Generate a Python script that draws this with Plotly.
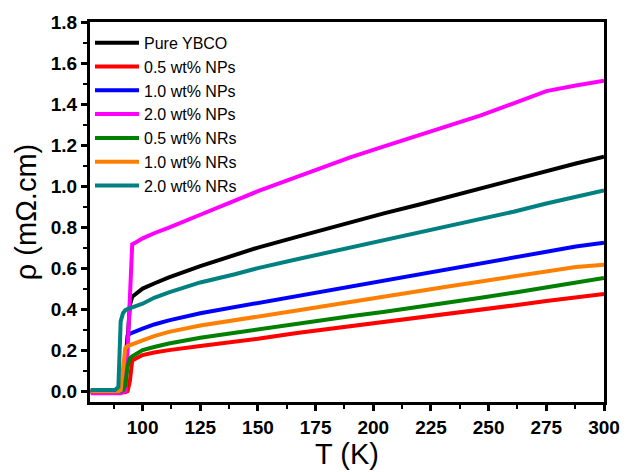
import plotly.graph_objects as go

T = [77.5, 80, 85, 88, 89.5, 90.5, 91.5, 92.5, 93.5, 94.5, 95.5, 97, 100, 105,
     111.4, 125, 140, 150, 166.9, 190, 205, 220, 232.4, 246.6, 260.8, 275, 287.8, 300]

pure_ybco = [0, 0, 0, 0, 0, 0, 0.005, 0.05, 0.25, 0.42, 0.46, 0.475, 0.50, 0.525,
             0.555, 0.61, 0.665, 0.70, 0.752, 0.825, 0.868, 0.91, 0.947, 0.99, 1.033, 1.075, 1.11, 1.143]
nps_05 = [-0.005, -0.005, -0.005, -0.005, -0.005, -0.005, -0.005, -0.005, 0.0, 0.05, 0.15, 0.16, 0.176, 0.188,
          0.20, 0.22, 0.24, 0.255, 0.283, 0.315, 0.337, 0.36, 0.378, 0.398, 0.418, 0.44, 0.457, 0.474]
nps_10 = [0, 0, 0, 0, 0, 0.01, 0.05, 0.15, 0.27, 0.28, 0.285, 0.29, 0.305, 0.325,
          0.345, 0.38, 0.41, 0.43, 0.466, 0.51, 0.54, 0.571, 0.595, 0.622, 0.65, 0.68, 0.705, 0.724]
nps_20 = [-0.01, -0.01, -0.01, -0.01, -0.01, -0.01, -0.005, 0.0, 0.2, 0.5, 0.716, 0.725, 0.745, 0.77,
          0.797, 0.86, 0.93, 0.975, 1.045, 1.14, 1.195, 1.25, 1.295, 1.345, 1.403, 1.463, 1.49, 1.514]
nrs_05 = [0, 0, 0, 0, 0, 0, 0.005, 0.03, 0.12, 0.16, 0.17, 0.18, 0.20, 0.215,
          0.232, 0.26, 0.285, 0.30, 0.33, 0.365, 0.387, 0.41, 0.43, 0.455, 0.48, 0.505, 0.527, 0.552]
nrs_10 = [0, 0, 0, 0, 0, 0.005, 0.1, 0.21, 0.22, 0.225, 0.23, 0.235, 0.248, 0.268,
          0.289, 0.32, 0.345, 0.362, 0.393, 0.435, 0.46, 0.487, 0.51, 0.535, 0.56, 0.585, 0.605, 0.616]
nrs_20 = [0.005, 0.005, 0.005, 0.005, 0.02, 0.34, 0.38, 0.395, 0.40, 0.405, 0.41, 0.415, 0.426, 0.455,
          0.482, 0.53, 0.57, 0.60, 0.643, 0.70, 0.74, 0.776, 0.805, 0.84, 0.875, 0.915, 0.95, 0.979]

names = ["Pure YBCO", "0.5 wt% NPs", "1.0 wt% NPs", "2.0 wt% NPs",
         "0.5 wt% NRs", "1.0 wt% NRs", "2.0 wt% NRs"]
series = [pure_ybco, nps_05, nps_10, nps_20, nrs_05, nrs_10, nrs_20]
colors = ["#000000", "#ff0000", "#0000ff", "#ff00ff", "#008000", "#ff8000", "#008080"]

fig = go.Figure()
for name, ys, c in zip(names, series, colors):
    fig.add_trace(go.Scatter(x=T, y=ys, mode="lines", name=name,
                             line=dict(color=c, width=4)))

axis_common = dict(
    showline=True, linecolor="black", linewidth=3, mirror=True,
    ticks="outside", ticklen=6, tickwidth=2.5, tickcolor="black",
    showgrid=False, zeroline=False,
    tickfont=dict(family="Liberation Sans, Arial", size=19, color="black", weight="bold"),
)

fig.update_xaxes(range=[77.2, 300], tick0=0, dtick=25,
                 minor=dict(ticks="outside", ticklen=4, tickwidth=2, tickcolor="black", dtick=12.5, tick0=0),
                 title=dict(text="T (K)", font=dict(family="Liberation Sans, Arial", size=29, color="black"), standoff=2),
                 **axis_common)
fig.update_yaxes(range=[-0.053, 1.8], tick0=0, dtick=0.2, tickformat=".1f",
                 minor=dict(ticks="outside", ticklen=4, tickwidth=2, tickcolor="black", dtick=0.1, tick0=0),
                 title=dict(text="ρ (mΩ.cm)", font=dict(family="Liberation Sans, Arial", size=29, color="black"), standoff=6),
                 **axis_common)

fig.update_layout(
    width=632, height=472,
    margin=dict(l=90, r=20, t=21, b=68),
    plot_bgcolor="white", paper_bgcolor="white",
    legend=dict(x=0.0, y=0.99, xanchor="left", yanchor="top",
                font=dict(family="Liberation Sans, Arial", size=16, color="black"),
                itemwidth=44,
                bgcolor="rgba(0,0,0,0)", borderwidth=0, tracegroupgap=0),
)

fig.write_html("out.html")
